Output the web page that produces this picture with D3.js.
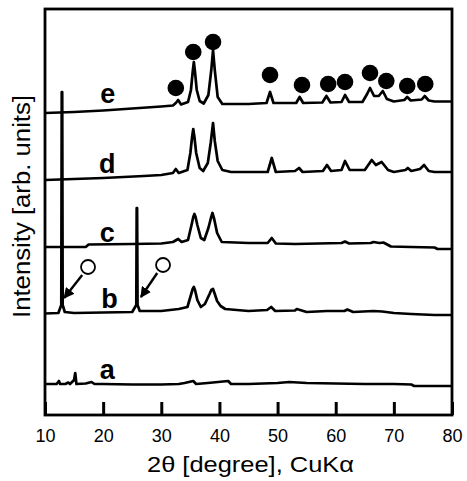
<!DOCTYPE html>
<html><head><meta charset="utf-8">
<script src="https://cdn.jsdelivr.net/npm/d3@7"></script>
<style>body{margin:0;background:#fff}svg{display:block}</style>
</head><body>
<svg id="c" width="467" height="481"></svg>
<script>
// ---- data (2θ in degrees, intensity in arbitrary units, stacked offsets included) ----
const xTicks = [10, 20, 30, 40, 50, 60, 70, 80];
const curveNames = ["a", "b", "c", "d", "e"];

const thetaE = [10,15,20,25,30,32,32.5,32.9,33.4,34.6,35.1,35.4,35.6,35.8,36.1,36.6,37.3,38.1,38.6,38.9,39.2,39.7,40.5,45,48.1,48.7,49.3,53.2,53.8,54.4,57.7,58.4,59.1,61,61.6,62.3,64.6,65.4,65.9,66.6,67.4,68.1,68.8,70,71.8,72.3,72.9,74.8,75.3,76,77,80];
const intE   = [302,303,304.5,306.5,308.5,309.5,312,315,310.5,313,325,343,353,343,325,314,311.5,320,345,365,345,318,311,311,312,323,312,312,318,312,312.5,319,312.5,313,320,313,313,321,327,319,319,324,316,313.5,315,318,314.5,315.5,319,314.5,313.5,313.5];

const thetaD = [10,20,27,30,32,32.5,33,34.5,35.0,35.3,35.5,35.7,36.0,36.6,37.2,38.0,38.5,38.9,39.2,39.7,40.5,42,48.3,49,49.7,53,53.7,54.3,57.8,58.5,59.2,61,61.6,62.4,65,66.2,66.9,67.9,69,70,72,72.4,73,74.5,75.2,76,77,80];
const intD   = [235,237,239,240,242,246,242,245,262,278,286,278,262,247,244,252,272,292,274,254,245,243,243,257,243,244,247,243,244,250,244,245,254,245,245,255,250,253,245,243,245,247,244,246,250,244,243,243];

const thetaC = [10,17,17.5,25,30,32,32.9,33.5,34.6,35.2,35.5,35.7,35.9,36.2,36.8,37.4,38.1,38.5,38.8,39.1,39.6,40.4,45,48.3,49,49.7,53,61,61.6,62.3,66,66.5,67.5,68.2,69.5,73,77,77.5,80];
const intC   = [168,168,170.5,171,171.5,173,176,173,175,190,198,201,198,190,177,175,187,196,202,196,182,173,172,172,177,171.5,171,172,173.5,171.5,172,173,172,172.5,168.5,168,167.5,166,166];

const thetaB = [10,12.3,12.8,12.88,12.96,13.04,13.4,15,20,25,25.7,25.77,25.84,25.92,26.3,30,33,34.5,35.1,35.4,35.6,35.8,36.2,36.8,37.5,38.3,38.6,38.9,39.2,39.6,40.2,41,45,48.2,48.9,49.6,53,53.3,55,58.5,61.5,62,63,66.5,68,70,73,77,80];
const intB   = [101.5,102,110,323,323,110,103,102,102.5,103,110,207,207,110,104,104,106,108,120,126,128,125,115,108,111,121,125,126,121,114,109,106,104,105,108,104,104.5,106,103,104,104,105.5,103,104,103.5,102,101,100,100];

const thetaA = [10,12,12.4,12.6,13.5,14,14.3,15.0,15.2,15.4,17,18,18.5,20,25,30,33,34,35.5,36,38,41.5,42,45,50,52,55,60,65,70,73,73.5,80];
const intA   = [31,31,34,31,31,32.5,31,35,42,31,31.5,33,31,31,30.5,30.5,31,32,34,31,32,34,31,31,32,33,32,31.5,31,31,30.5,29,29];

// filled-circle phase markers above the peaks of curve e
const dotTheta = [32.5,35.5,38.9,48.7,54.2,58.7,61.6,65.9,68.7,72.3,75.4];
const dotInt   = [327,363,373,340,330,331,333,342,334,329,331];
// open-circle markers with arrows pointing at the peaks of curve b
const ringTheta = [17.4,30.3];
const ringInt   = [148,150];
const arrowFromTheta = [16.4,29.3];
const arrowFromInt   = [140,142];
const arrowToTheta   = [13.3,26.5];
const arrowToInt     = [117,118];
// curve labels
const labelTheta = [20.7,21.1,20.7,20.7,20.8];
const labelInt   = [36,107,173,242,312];

const xTitle = "2\u03b8 [degree], CuK\u03b1";
const yTitle = "Intensity [arb. units]";

// ---- drawing ----
const W = 467, H = 481;
const m = {left:45, top:9, right:15, bottom:66};
const svg = d3.select("#c");
const x = d3.scaleLinear().domain([10, 80]).range([m.left, W - m.right]);
const y = d3.scaleLinear().domain([0, 406]).range([H - m.bottom, m.top]);
const font = "Arial, 'Liberation Sans', Helvetica, sans-serif";

const series = [
  [thetaA, intA], [thetaB, intB], [thetaC, intC], [thetaD, intD], [thetaE, intE]
];
const line = d3.line().x(d => x(d[0])).y(d => y(d[1]));
series.forEach(([t, v]) => {
  svg.append("path")
    .datum(t.map((tt, i) => [tt, v[i]]))
    .attr("d", line)
    .attr("fill", "none")
    .attr("stroke", "#000")
    .attr("stroke-width", 2.7)
    .attr("stroke-linejoin", "round");
});

// frame
svg.append("rect")
  .attr("x", x(10)).attr("y", y(406))
  .attr("width", x(80) - x(10)).attr("height", y(0) - y(406))
  .attr("fill", "none").attr("stroke", "#000").attr("stroke-width", 2.8);

// x axis (ticks inward)
const xAxis = d3.axisBottom(x).tickValues(xTicks).tickSize(-13).tickPadding(14).tickFormat(d3.format("d"));
const gx = svg.append("g").attr("transform", `translate(0,${y(0)})`).call(xAxis);
gx.select(".domain").remove();
gx.selectAll(".tick line").attr("stroke", "#000").attr("stroke-width", 3);
gx.selectAll(".tick text").attr("font-family", font).attr("font-size", 18).attr("fill", "#000").attr("dy", "0.71em");

// filled circles
svg.selectAll("circle.dot").data(dotTheta).enter().append("circle")
  .attr("class", "dot")
  .attr("cx", d => x(d)).attr("cy", (d, i) => y(dotInt[i])).attr("r", 8.3)
  .attr("fill", "#000");

// open circles + arrows
svg.append("defs").append("marker")
  .attr("id", "ah").attr("viewBox", "0 0 10 10").attr("refX", 9).attr("refY", 5)
  .attr("markerWidth", 4.5).attr("markerHeight", 4.5).attr("orient", "auto")
  .append("path").attr("d", "M0,0L10,5L0,10Z").attr("fill", "#000");
ringTheta.forEach((t, i) => {
  svg.append("circle").attr("cx", x(t)).attr("cy", y(ringInt[i])).attr("r", 7)
    .attr("fill", "#fff").attr("stroke", "#000").attr("stroke-width", 1.8);
  svg.append("line")
    .attr("x1", x(arrowFromTheta[i])).attr("y1", y(arrowFromInt[i]))
    .attr("x2", x(arrowToTheta[i])).attr("y2", y(arrowToInt[i]))
    .attr("stroke", "#000").attr("stroke-width", 2.4)
    .attr("marker-end", "url(#ah)");
});

// curve labels
curveNames.forEach((n, i) => {
  svg.append("text").attr("x", x(labelTheta[i])).attr("y", y(labelInt[i]))
    .attr("text-anchor", "middle").attr("font-family", font)
    .attr("font-weight", "bold").attr("font-size", 27).text(n);
});

// axis titles
svg.append("text").attr("x", (x(10) + x(80)) / 2 + 2).attr("y", 472)
  .attr("text-anchor", "middle").attr("font-family", font).attr("font-size", 22)
  .attr("textLength", 207).attr("lengthAdjust", "spacingAndGlyphs").text(xTitle);
svg.append("text").attr("transform", `translate(30,${(95 + 318) / 2}) rotate(-90)`)
  .attr("text-anchor", "middle").attr("font-family", font).attr("font-size", 23)
  .attr("textLength", 223).attr("lengthAdjust", "spacingAndGlyphs").text(yTitle);
</script>
</body></html>
